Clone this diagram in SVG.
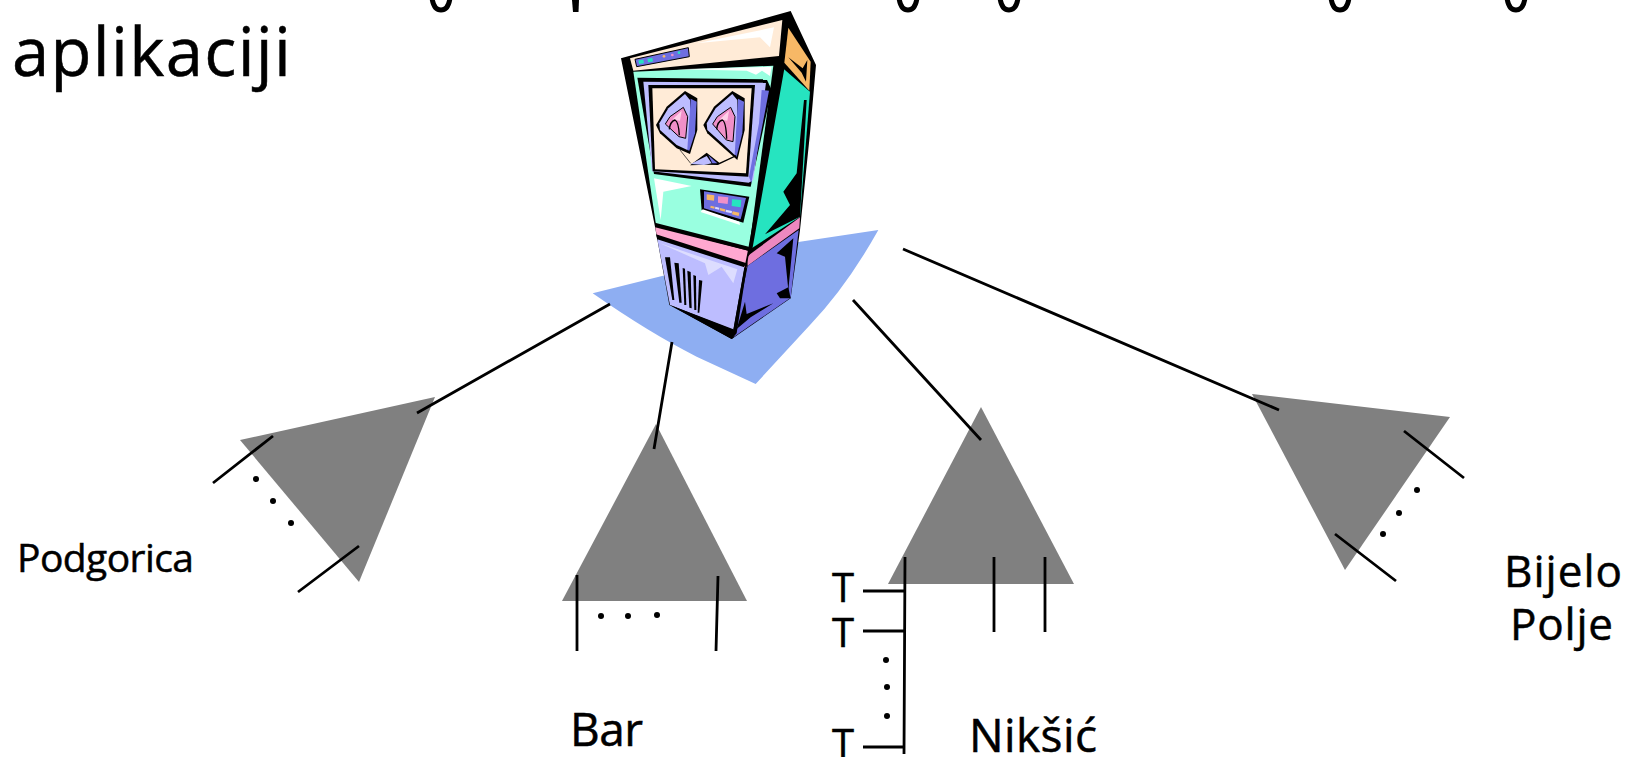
<svg xmlns="http://www.w3.org/2000/svg" width="1628" height="757" viewBox="0 0 1628 757">
<style>
text{font-family:"Open Sans","Noto Sans","DejaVu Sans",sans-serif;fill:#000;stroke:#000;stroke-width:.5}
.tri{fill:#808080}
.ln{stroke:#000;stroke-width:2.8;fill:none;stroke-linecap:butt}
.frag{stroke:#000;stroke-width:5;fill:none}
.k{fill:#000}.cr{fill:#FFEBD7}.lt{fill:#99FFE0}.te{fill:#26E4C0}.pe{fill:#BDBDFF}.bl{fill:#6E6EE0}.pk{fill:#F090C8}.or{fill:#F7B866}.wh{fill:#fff}.hl{fill:#DDDDFF}
.arch{fill:none;stroke:#000;stroke-width:4}
</style>
<g id="title-fragments">
<path class="frag" d="M432,-2C433,5 436,10 441,10C446,10 449,5 450,-2"/>
<path d="M572,0H579L578.500,12H573Z" fill="#000"/>
<path class="frag" d="M899,-2C900,5 903,10 908,10C913,10 916,5 917,-2"/>
<path class="frag" d="M1000,-2C1001,5 1004,10 1009,10C1014,10 1017,5 1018,-2"/>
<path class="frag" d="M1331,-2C1332,5 1335,10 1340,10C1345,10 1348,5 1349,-2"/>
<path class="frag" d="M1507,-2C1508,5 1511,10 1516,10C1521,10 1524,5 1525,-2"/>
</g>
<g id="label-aplikaciji"><text x="12" y="76" font-size="67" textLength="279" lengthAdjust="spacing">aplikaciji</text></g>
<g id="server" transform="translate(580,0) scale(.33333)">
<path d="M38,880L660,725L895,690Q800,860 690,975L527,1152L350,1070Q210,1000 38,880Z" fill="#8EAEF2"/>
<path class="k" d="M123,175L632,33L708,195L690,400L660,690L632,895L455,1017L268,915L225,680Z"/>
<path class="cr" d="M150,175L607,60L597,168L160,212Z"/>
<path class="wh" d="M350,130L582,82L570,142L540,112Z"/>
<path class="bl" d="M165,178L325,143L328,170L170,200Z" stroke="#000" stroke-width="3"/>
<rect class="te" x="176" y="180" width="15" height="11" transform="rotate(-10 183 185)"/>
<rect class="te" x="203" y="175" width="15" height="11" transform="rotate(-10 210 180)"/>
<circle class="or" cx="252" cy="169" r="4"/><circle class="pk" cx="277" cy="165" r="4"/><circle class="te" cx="297" cy="158" r="4"/>
<path class="or" d="M625,83L692,185L688,272L613,188Z"/>
<path class="k" d="M625,172L668,205L682,180L678,245L665,218Z"/>
<path class="lt" d="M160,215L580,197L507,748L228,675Z"/>
<path class="wh" d="M290,208L575,200L570,228L546,212L528,224L500,212Z"/>
<path class="k" d="M172,233L560,238L575,270L512,560L222,522Z"/>
<path class="pe" d="M190,245L558,248L520,540L506,548L216,514Z"/>
<path class="k" d="M205,255L525,255L505,530L218,514Z"/>
<path class="cr" d="M217,265L515,265L498,520L225,508Z"/>
<path class="bl" d="M545,270L567,272L514,550L507,530L537,370Z"/>
<g id="reel-left">
<path class="k" d="M315,273L352,295L352,390L330,462L290,445L240,400L228,375L260,320Z"/>
<path class="pe" d="M315,282L330,300L330,440L322,450L290,435L240,390L238,370L265,325Z"/>
<path class="bl" d="M332,296L350,305L345,400L328,452L322,450Z"/>
<path class="pk" d="M310,322L323,350L317,415L297,410L256,372L270,350Z" stroke="#000" stroke-width="3"/>
<path d="M305,332L300,362L278,358Z" fill="#FFD0E8"/>
<path class="arch" d="M268,388Q270,365 285,360Q296,365 298,406"/>
</g>
<g id="reel-right" transform="translate(142,0)">
<path class="k" d="M315,273L352,295L352,390L330,480L290,445L240,400L228,375L260,320Z"/>
<path class="pe" d="M315,282L330,300L330,440L322,465L290,435L240,390L238,370L265,325Z"/>
<path class="bl" d="M332,296L350,305L345,400L328,470L322,465Z"/>
<path class="pk" d="M310,322L323,350L317,425L297,420L256,372L270,350Z" stroke="#000" stroke-width="3"/>
<path d="M305,332L300,362L278,358Z" fill="#FFD0E8"/>
<path class="arch" d="M268,388Q270,365 285,360Q296,365 298,416"/>
</g>
<path class="k" d="M330,496L380,458L418,488L470,464L466,470L414,495L380,494Z"/>
<path class="pe" d="M332,492L380,468L395,490L372,495Z"/>
<path class="bl" d="M385,466L412,490L397,490Z"/>
<path d="M300,450L332,490" stroke="#000" stroke-width="2" fill="none"/>
<path class="k" d="M360,568L508,590L490,668L365,630Z"/>
<path class="wh" d="M368,628L478,665L480,675L362,636Z"/>
<path class="bl" d="M372,574L498,594L482,658L372,625Z"/>
<path class="or" d="M380,583L403,586L402,602L380,599Z"/>
<path class="pk" d="M414,589L445,592L443,612L414,608Z"/>
<path class="te" d="M456,598L484,600L482,622L455,618Z"/>
<path class="or" d="M392,617L404,620L403,626L391,623Z"/><path class="hl" d="M406,620L418,623L417,629L405,626Z"/><path class="or" d="M420,624L436,628L435,635L419,631Z"/><path class="hl" d="M438,629L456,633L455,640L437,636Z"/><path class="or" d="M458,634L478,638L476,648L456,643Z"/>
<path class="wh" d="M222,535L335,558L250,575L242,660Z"/>
<path class="te" d="M607,203L690,275L660,650L515,745Z"/>
<path class="k" d="M672,300L680,300L660,650L555,703L630,615L610,575L650,520Z"/>
<path d="M225,677L505,752L500,805L230,705Z" fill="#FFA8D0"/>
<path class="k" d="M225,668L512,742L505,752L225,682Z"/>
<path d="M500,770L660,652L658,685L503,797Z" fill="#EE88C0"/>
<path class="k" d="M228,703L500,790L490,803L232,720Z"/>
<path class="pe" d="M232,718L493,802L460,990L270,915Z"/>
<path class="hl" d="M240,730L375,790L385,825L425,800L460,850L472,808Z"/>
<path class="k" d="M255,772L270,772L283,900L277,900Z"/>
<path class="k" d="M283,788L296,790L305,908L298,908Z"/>
<path class="k" d="M308,804L315,806L319,915L313,915Z"/>
<path class="k" d="M322,812L332,816L335,925L328,923Z"/>
<path class="k" d="M340,825L348,828L349,930L343,930Z"/>
<path class="k" d="M357,840L367,842L358,938L353,938Z"/>
<path class="k" d="M270,915L460,988L470,1005L455,1017Z"/>
<path class="bl" d="M503,797L656,690L632,893L460,1012Z"/>
<path class="k" d="M590,760L640,715L625,870L615,770Z"/>
<path class="k" d="M495,905L500,942L580,910L512,952L470,987Z"/>
<path class="k" d="M590,880L625,862L632,895L600,895Z"/>
<path class="k" d="M602,195L614,200L517,748L505,770L470,1000L455,1017L495,795L505,745Z"/>
</g>
<g id="node-podgorica">
<polygon class="tri" points="435,397 240,440 359,582"/>
<path class="ln" d="M213,483L273,436M298,592L359,546"/>
<circle cx="256" cy="479" r="3"/><circle cx="273" cy="501" r="3"/><circle cx="291" cy="523" r="3"/>
<text x="17" y="572" font-size="39" textLength="177" lengthAdjust="spacing">Podgorica</text>
</g>
<g id="node-bar">
<polygon class="tri" points="656,424 562,601 747,601"/>
<path class="ln" d="M577,575V651M718,576L716,651"/>
<circle cx="601" cy="616" r="3"/><circle cx="628" cy="616" r="3"/><circle cx="657" cy="615" r="3"/>
<text x="570" y="746" font-size="46" textLength="73" lengthAdjust="spacing">Bar</text>
</g>
<g id="node-niksic">
<polygon class="tri" points="981,407 888,584 1074,584"/>
<path class="ln" d="M905,557L904,754M994,557V632M1045,557V632M863,591H905M863,631H904M863,747H905"/>
<circle cx="886" cy="660" r="3"/><circle cx="887" cy="687" r="3"/><circle cx="887" cy="716" r="3"/>
<text x="832" y="602" font-size="40">T</text>
<text x="832" y="647" font-size="40">T</text>
<text x="832" y="758" font-size="40">T</text>
<text x="969" y="752" font-size="46" textLength="128" lengthAdjust="spacing">Nikšić</text>
</g>
<g id="node-bijelo-polje">
<polygon class="tri" points="1252,394 1450,417 1345,570"/>
<path class="ln" d="M1404,431L1464,478M1335,534L1396,581"/>
<circle cx="1417" cy="490" r="3"/><circle cx="1399" cy="513" r="3"/><circle cx="1383" cy="534" r="3"/>
<text x="1504" y="587" font-size="44" textLength="118" lengthAdjust="spacing">Bijelo</text>
<text x="1510" y="640" font-size="44" textLength="103" lengthAdjust="spacing">Polje</text>
</g>
<g id="connectors">
<path class="ln" d="M417,413L610,304M672,342L654,449M853,300L981,440M903,249L1279,410"/>
</g>
</svg>
